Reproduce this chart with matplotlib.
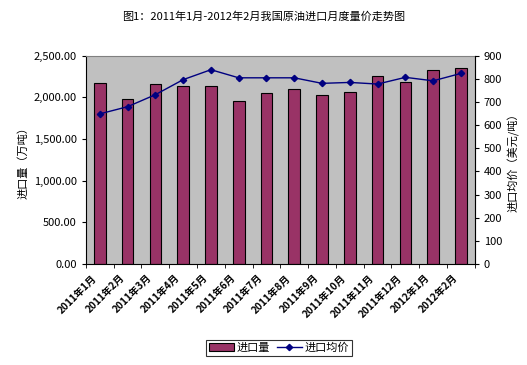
import matplotlib
matplotlib.use("Agg")
import matplotlib.pyplot as plt
import matplotlib.transforms as mtransforms
import numpy as np
from matplotlib.ticker import FuncFormatter, MultipleLocator, FixedLocator

plt.rcParams['font.family'] = ['Noto Sans CJK SC', 'DejaVu Sans']

categories = ["2011年1月", "2011年2月", "2011年3月", "2011年4月", "2011年5月", "2011年6月",
              "2011年7月", "2011年8月", "2011年9月", "2011年10月", "2011年11月", "2011年12月",
              "2012年1月", "2012年2月"]
volume = [2173, 1982, 2161, 2141, 2141, 1962, 2054, 2097, 2033, 2069, 2261, 2181, 2329, 2353]
price = [649, 680, 732, 797, 840, 805, 805, 805, 781, 785, 778, 807, 792, 824]

fig = plt.figure(figsize=(5.27, 3.65), dpi=100)
ax = fig.add_axes([0.163, 0.277, 0.738, 0.570])
ax.set_facecolor('#C0C0C0')
x = np.arange(len(categories))
bars = ax.bar(x, volume, width=0.42, color='#993366', edgecolor='black', linewidth=0.8, label='进口量', zorder=2)
ax.set_xlim(-0.5, len(categories) - 0.5)
ax.set_ylim(0, 2500)
ax.yaxis.set_major_locator(MultipleLocator(500))
ax.yaxis.set_major_formatter(FuncFormatter(lambda v, p: f"{v:,.2f}"))
ax.set_xticks(x)
ax.set_xticklabels(categories, rotation=45, ha='right', va='center', rotation_mode='anchor',
                   fontsize=7.2, fontweight='bold')
ax.tick_params(axis='x', length=0, pad=9)
offset = mtransforms.ScaledTranslation(-5 / 100, 0, fig.dpi_scale_trans)
for lbl in ax.get_xticklabels():
    lbl.set_transform(lbl.get_transform() + offset)
ax.xaxis.set_minor_locator(FixedLocator(np.arange(-0.5, len(categories), 1.0)))
ax.tick_params(axis='x', which='minor', length=3, direction='out')
ax.tick_params(axis='y', labelsize=8, length=3, direction='out')
ax.set_ylabel('进口量（万吨）', fontsize=8)
for s in ['top', 'right']:
    ax.spines[s].set_color('#808080')
ax.spines['left'].set_color('black')
ax.spines['bottom'].set_color('black')

ax2 = ax.twinx()
ln, = ax2.plot(x, price, color='#000080', marker='D', markersize=3.2, linewidth=1.0, label='进口均价', zorder=3)
ax2.set_ylim(0, 900)
ax2.yaxis.set_major_locator(MultipleLocator(100))
ax2.tick_params(axis='y', labelsize=8, length=3, direction='out')
ax2.set_ylabel('进口均价（美元/吨）', fontsize=8)
for s in ['top', 'left', 'bottom']:
    ax2.spines[s].set_visible(False)
ax2.spines['right'].set_color('black')

fig.suptitle('图1：2011年1月-2012年2月我国原油进口月度量价走势图', x=0.5, y=0.97, fontsize=8)

leg = fig.legend(handles=[bars, ln], labels=['进口量', '进口均价'], loc='center', bbox_to_anchor=(0.53, 0.0475),
                 ncol=2, fontsize=8, frameon=True, fancybox=False, edgecolor='black',
                 handlelength=2.2, handletextpad=0.3, columnspacing=0.6, borderpad=0.25)
leg.get_frame().set_linewidth(0.8)

fig.savefig('out.png', dpi=100)
